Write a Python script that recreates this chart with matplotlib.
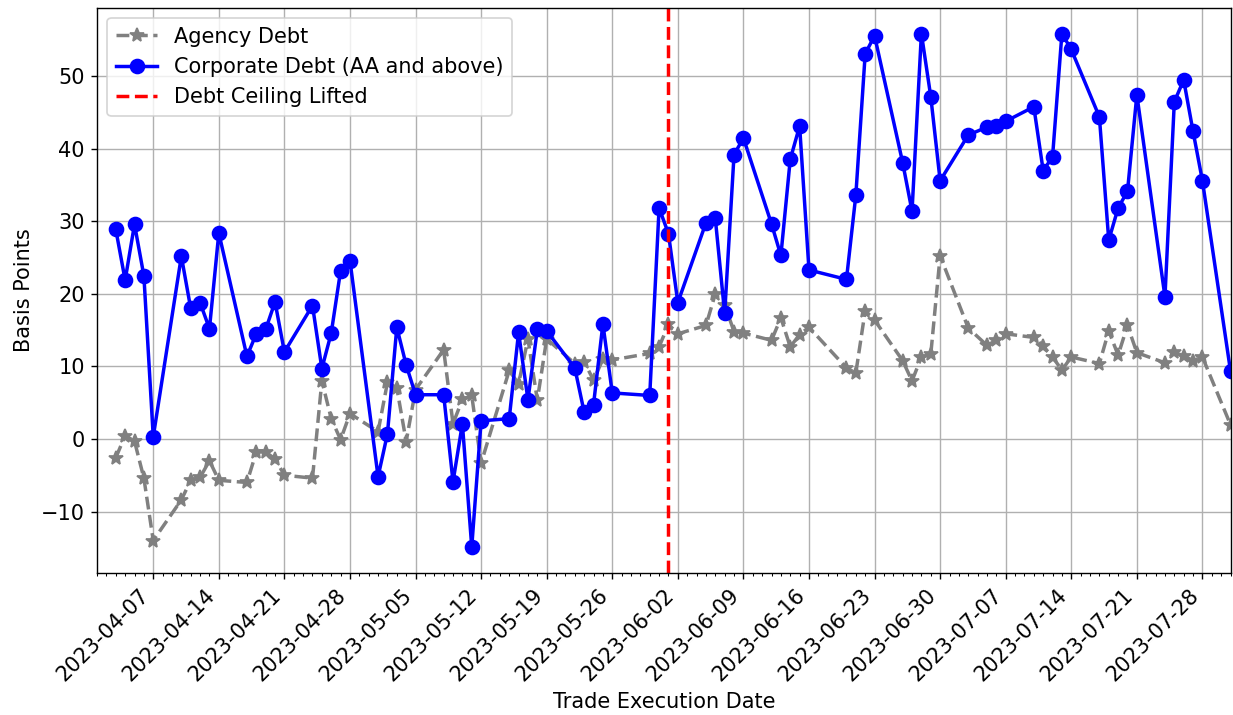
import numpy as np
import pandas as pd
import matplotlib
matplotlib.use('Agg')
import matplotlib.pyplot as plt
import matplotlib.dates as mdates

plt.rcParams['font.size'] = 12

# trade dates (business days, Apr-Jul 2023)
dates = ['2023-04-03', '2023-04-04', '2023-04-05', '2023-04-06', '2023-04-07',
         '2023-04-10', '2023-04-11', '2023-04-12', '2023-04-13', '2023-04-14',
         '2023-04-17', '2023-04-18', '2023-04-19', '2023-04-20', '2023-04-21',
         '2023-04-24', '2023-04-25', '2023-04-26', '2023-04-27', '2023-04-28',
         '2023-05-01', '2023-05-02', '2023-05-03', '2023-05-04', '2023-05-05',
         '2023-05-08', '2023-05-09', '2023-05-10', '2023-05-11', '2023-05-12',
         '2023-05-15', '2023-05-16', '2023-05-17', '2023-05-18', '2023-05-19',
         '2023-05-22', '2023-05-23', '2023-05-24', '2023-05-25', '2023-05-26',
         '2023-05-30', '2023-05-31',
         '2023-06-01', '2023-06-02',
         '2023-06-05', '2023-06-06', '2023-06-07', '2023-06-08', '2023-06-09',
         '2023-06-12', '2023-06-13', '2023-06-14', '2023-06-15', '2023-06-16',
         '2023-06-20', '2023-06-21', '2023-06-22', '2023-06-23',
         '2023-06-26', '2023-06-27', '2023-06-28', '2023-06-29', '2023-06-30',
         '2023-07-03', '2023-07-05', '2023-07-06', '2023-07-07',
         '2023-07-10', '2023-07-11', '2023-07-12', '2023-07-13', '2023-07-14',
         '2023-07-17', '2023-07-18', '2023-07-19', '2023-07-20', '2023-07-21',
         '2023-07-24', '2023-07-25', '2023-07-26', '2023-07-27', '2023-07-28',
         '2023-07-31']

agency = [-2.6, 0.47, -0.3, -5.4, -14.0, -8.4, -5.7, -5.3, -3.0, -5.7,
          -6.0, -1.8, -1.8, -2.75, -5.0, -5.4, 8.0, 2.8, -0.1, 3.5,
          1.0, 7.8, 7.05, -0.35, 6.8, 12.3, 2.1, 5.45, 6.0, -3.35,
          9.45, 7.6, 13.8, 5.35, 13.8, 10.4, 10.65, 8.1, 11.0, 10.9, 11.8, 12.7,
          15.8, 14.5, 15.65, 20.0, 18.5, 14.8, 14.6, 13.6, 16.7, 12.7, 14.4, 15.4,
          9.8, 9.1, 17.7, 16.4, 10.8, 8.0, 11.3, 11.65, 25.25,
          15.3, 12.9, 13.6, 14.5, 14.0, 12.8, 11.3, 9.5, 11.3,
          10.4, 14.9, 11.55, 15.65, 11.9, 10.5, 11.95, 11.45, 10.8, 11.3, 1.95]

corporate = [28.9, 21.9, 29.6, 22.5, 0.3, 25.2, 18.0, 18.8, 15.2, 28.4,
             11.4, 14.5, 15.1, 18.9, 12.0, 18.4, 9.7, 14.6, 23.2, 24.6,
             -5.2, 0.7, 15.4, 10.2, 6.1, 6.1, -5.9, 2.1, -14.9, 2.5,
             2.8, 14.7, 5.4, 15.1, 14.9, 9.8, 3.7, 4.75, 15.85, 6.35, 6.0, 31.85,
             28.3, 18.8, 29.8, 30.4, 17.3, 39.2, 41.5, 29.65, 25.3, 38.55, 43.15, 23.3,
             22.0, 33.6, 53.1, 55.6, 38.1, 31.4, 55.9, 47.2, 35.6,
             41.9, 43.0, 43.15, 43.8, 45.8, 37.0, 38.9, 55.9, 53.7,
             44.4, 27.4, 31.85, 34.15, 47.45, 19.6, 46.5, 49.5, 42.4, 35.6, 9.35]

ceiling_date = '2023-06-01'
x_start, x_end = '2023-04-01', '2023-07-31'

x = pd.to_datetime(dates)

fig = plt.figure(figsize=(9.864, 5.72), dpi=125)
ax = fig.add_subplot(111)
fig.subplots_adjust(left=0.0787, right=0.998, top=0.989, bottom=0.199)

ax.plot(x, agency, color='gray', linestyle='--', marker='*', markersize=8, linewidth=2, label='Agency Debt')
ax.plot(x, corporate, color='blue', linestyle='-', marker='o', markersize=8, linewidth=2, label='Corporate Debt (AA and above)')
ax.axvline(pd.Timestamp(ceiling_date), color='red', linestyle='--', linewidth=2, label='Debt Ceiling Lifted')

ax.set_xlim(pd.Timestamp(x_start), pd.Timestamp(x_end))
ax.xaxis.set_major_locator(mdates.WeekdayLocator(byweekday=mdates.FR))
ax.xaxis.set_minor_locator(mdates.DayLocator())
ax.xaxis.set_major_formatter(mdates.DateFormatter('%Y-%m-%d'))
plt.setp(ax.get_xticklabels(), rotation=45, ha='right')

ax.set_xlabel('Trade Execution Date')
ax.set_ylabel('Basis Points')
ax.grid(True)
ax.legend(loc='upper left')

plt.savefig('out.png', dpi=125)
